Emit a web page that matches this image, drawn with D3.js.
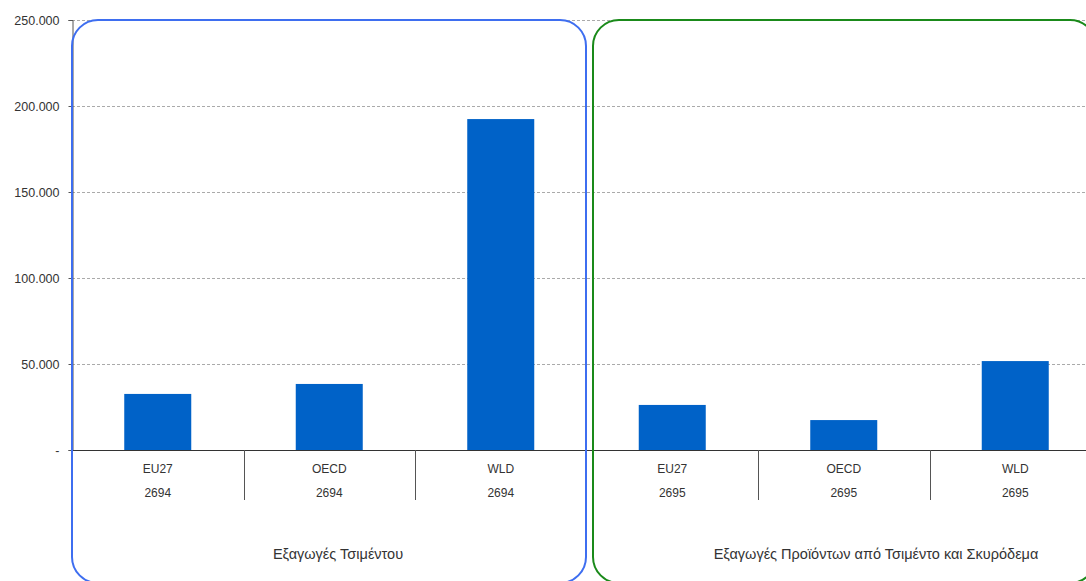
<!DOCTYPE html>
<html>
<head>
<meta charset="utf-8">
<script src="https://cdn.jsdelivr.net/npm/d3@7"></script>
<style>
  body { margin: 0; background: #fff; }
  text { font-family: "Liberation Sans", Arial, sans-serif; }
</style>
</head>
<body>
<div id="chart"></div>
<script>
// data
const groups = ["Εξαγωγές Τσιμέντου", "Εξαγωγές Προϊόντων από Τσιμέντο και Σκυρόδεμα"];
const codes = ["2694", "2695"];
const regions = ["EU27", "OECD", "WLD"];
const values2694 = [32600, 38400, 192400];
const values2695 = [26200, 17400, 51700];
const yTicks = [0, 50000, 100000, 150000, 200000, 250000];

const rows = [];
codes.forEach((c, gi) => {
    const vals = gi === 0 ? values2694 : values2695;
    regions.forEach((r, i) => rows.push({ key: r + "_" + c, region: r, code: c, group: gi, value: vals[i] }));
});

const width = 1086, height = 581;
const mLeft = 72, mTop = 20, mBottom = 450;
const bandW = 171.5;

const svg = d3.select("#chart").append("svg")
    .attr("width", width)
    .attr("height", height);

const x = d3.scaleBand()
    .domain(rows.map(d => d.key))
    .range([mLeft, mLeft + bandW * rows.length])
    .paddingInner(0).paddingOuter(0);

const y = d3.scaleLinear()
    .domain([0, 250000])
    .range([mBottom, mTop]);

// gridlines
svg.append("g").selectAll("line")
    .data(yTicks.filter(t => t > 0))
    .enter().append("line")
    .attr("x1", mLeft).attr("x2", width)
    .attr("y1", d => y(d) + 0.5).attr("y2", d => y(d) + 0.5)
    .attr("stroke", "#aaa")
    .attr("stroke-dasharray", "3,2");

// y axis
const fmt = d => d === 0 ? "-" : d3.format(",")(d).replace(/,/g, ".");
const yAxis = svg.append("g")
    .attr("transform", `translate(${mLeft + 0.5},0)`)
    .call(d3.axisLeft(y).tickValues(yTicks).tickFormat(fmt).tickSize(4).tickPadding(9));
yAxis.select(".domain").attr("stroke", "#555");
yAxis.selectAll(".tick line").attr("stroke", "#555");
yAxis.selectAll("text").attr("font-size", 12.5).attr("fill", "#333");
// axis extends down through category area
svg.append("line")
    .attr("x1", mLeft + 0.5).attr("x2", mLeft + 0.5)
    .attr("y1", mBottom).attr("y2", 500)
    .attr("stroke", "#555");

// bars
svg.append("g").selectAll("rect")
    .data(rows)
    .enter().append("rect")
    .attr("x", d => x(d.key) + (bandW - 67) / 2)
    .attr("y", d => y(d.value))
    .attr("width", 67)
    .attr("height", d => y(0) - y(d.value))
    .attr("fill", "#0062c8");

// x axis baseline
svg.append("line")
    .attr("x1", mLeft).attr("x2", width)
    .attr("y1", mBottom + 0.5).attr("y2", mBottom + 0.5)
    .attr("stroke", "#333");

// category separators (the group border hides the one between groups)
svg.append("g").selectAll("line")
    .data(rows.filter((d, i) => i > 0 && i !== regions.length))
    .enter().append("line")
    .attr("x1", d => Math.round(x(d.key)) + 0.5).attr("x2", d => Math.round(x(d.key)) + 0.5)
    .attr("y1", mBottom).attr("y2", 500)
    .attr("stroke", "#555");

// category labels
const lab = svg.append("g").attr("font-size", 12).attr("fill", "#333").attr("text-anchor", "middle");
lab.selectAll(".reg").data(rows).enter().append("text")
    .attr("x", d => x(d.key) + bandW / 2)
    .attr("y", 473)
    .text(d => d.region);
lab.selectAll(".code").data(rows).enter().append("text")
    .attr("x", d => x(d.key) + bandW / 2)
    .attr("y", 497)
    .text(d => d.code);

// group frames
const frames = [
    { x0: 72, x1: 586, color: "#3e6ef0" },
    { x0: 593, x1: 1096, color: "#1a8a1a" }
];
svg.append("g").selectAll("rect")
    .data(frames)
    .enter().append("rect")
    .attr("x", d => d.x0).attr("y", mTop)
    .attr("width", d => d.x1 - d.x0).attr("height", 563)
    .attr("rx", 26).attr("ry", 26)
    .attr("fill", "none")
    .attr("stroke", d => d.color)
    .attr("stroke-width", 2);

// group labels
const groupX = [338, 876];
svg.append("g").selectAll("text")
    .data(groups)
    .enter().append("text")
    .attr("x", (d, i) => groupX[i])
    .attr("y", 559)
    .attr("text-anchor", "middle")
    .attr("font-size", 14.5)
    .attr("fill", "#333")
    .text(d => d);
</script>
</body>
</html>
